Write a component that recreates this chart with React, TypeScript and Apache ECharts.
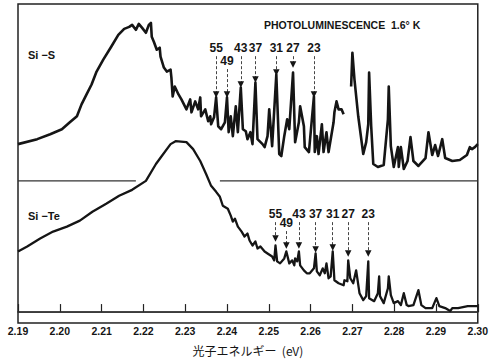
import React, { useEffect, useRef } from 'react';
import * as echarts from 'echarts';

// x: photon energy (eV); y: relative intensity (arbitrary units, above each baseline)
const siS: [number, number | string][] = [
  [2.19, 37], [2.1946, 42], [2.1977, 47], [2.2005, 52], [2.2024, 59], [2.2041, 65], [2.2052, 77],
  [2.2064, 87], [2.2076, 97], [2.2088, 110], [2.2104, 122], [2.2123, 135], [2.214, 147], [2.2154, 153],
  [2.2166, 155], [2.2173, 157], [2.2182, 152], [2.2189, 158], [2.2197, 154], [2.2206, 149], [2.2213, 157],
  [2.2218, 159], [2.222, 145], [2.2225, 140], [2.2232, 132], [2.2239, 134], [2.2241, 125], [2.2249, 114],
  [2.2256, 110], [2.2265, 112], [2.2267, 104], [2.227, 85], [2.2275, 95], [2.2284, 87], [2.2291, 82],
  [2.2303, 72], [2.2312, 82], [2.2315, 69], [2.2324, 80], [2.2331, 72], [2.2336, 84], [2.2338, 65],
  [2.2348, 72], [2.2355, 60], [2.236, 65], [2.2362, 57], [2.2369, 64], [2.2374, 84], [2.2379, 55],
  [2.2386, 52], [2.2395, 59], [2.24, 84], [2.2404, 49], [2.2409, 65], [2.2414, 45], [2.2421, 75],
  [2.2426, 49], [2.2433, 94], [2.2438, 52], [2.2445, 50], [2.2449, 42], [2.2456, 49], [2.2461, 37],
  [2.2468, 99], [2.2473, 42], [2.2485, 37], [2.249, 34], [2.2497, 45], [2.2501, 72], [2.2508, 35],
  [2.2518, 107], [2.2525, 27], [2.253, 25], [2.2537, 45], [2.2544, 62], [2.2549, 52], [2.2551, 65],
  [2.2558, 109], [2.2563, 39], [2.2572, 59], [2.2575, 75], [2.2584, 55], [2.2586, 34], [2.2596, 29],
  [2.2608, 85], [2.261, 29], [2.2615, 45], [2.2619, 27], [2.2627, 57], [2.2631, 29], [2.2638, 49],
  [2.2643, 29], [2.2655, 59], [2.2657, 69], [2.2662, 80], [2.2667, 72], [2.2674, 72], [2.2679, 67],
  [2.2688, '-'],
  [2.2697, 95], [2.27, 129], [2.2705, 102], [2.2714, 65], [2.2726, 27], [2.2733, 39], [2.2738, 57],
  [2.274, 109], [2.2745, 55], [2.275, 17], [2.2761, 14], [2.2775, 16], [2.2785, 62], [2.2787, 95],
  [2.2792, 35], [2.2799, 14], [2.2809, 34], [2.2811, 14], [2.2816, 34], [2.2823, 12], [2.2832, 20],
  [2.2839, 44], [2.2846, 20], [2.2858, 15], [2.2875, 23], [2.2882, 49], [2.2891, 26], [2.2898, 36],
  [2.2905, 25], [2.2915, 42], [2.2922, 23], [2.2939, 20], [2.2957, 21], [2.2974, 26], [2.2981, 34],
  [2.2986, 32], [2.2993, 34], [2.3, 37],
];

const siTe: [number, number][] = [
  [2.19, 61], [2.1922, 66], [2.1953, 74], [2.1984, 81], [2.2017, 86], [2.2048, 92], [2.2078, 101],
  [2.2111, 109], [2.2142, 117], [2.2173, 123], [2.2206, 132], [2.223, 149], [2.2244, 157], [2.2265, 169],
  [2.2277, 172], [2.2303, 171], [2.2319, 164], [2.2336, 152], [2.235, 139], [2.2362, 127], [2.2374, 121],
  [2.2383, 116], [2.239, 107], [2.2402, 104], [2.2409, 97], [2.2414, 91], [2.2419, 94], [2.2426, 86],
  [2.2435, 81], [2.2442, 76], [2.2449, 79], [2.2454, 72], [2.2461, 67], [2.2468, 71], [2.2473, 64],
  [2.248, 66], [2.249, 61], [2.2497, 59], [2.2508, 56], [2.2513, 52], [2.2516, 67], [2.252, 51],
  [2.2527, 49], [2.2537, 54], [2.2542, 61], [2.2549, 49], [2.2556, 52], [2.2561, 47], [2.2563, 54],
  [2.2568, 51], [2.2572, 61], [2.2575, 47], [2.2584, 42], [2.2591, 39], [2.2598, 39], [2.2608, 44],
  [2.2612, 59], [2.2615, 41], [2.2622, 37], [2.2629, 44], [2.2634, 39], [2.2638, 49], [2.2643, 34],
  [2.2648, 36], [2.2653, 61], [2.2657, 32], [2.2667, 29], [2.2679, 27], [2.2681, 32], [2.2688, 31],
  [2.269, 52], [2.2695, 34], [2.2702, 29], [2.2709, 42], [2.2717, 19], [2.2726, 12], [2.2733, 16],
  [2.2738, 51], [2.274, 14], [2.2752, 11], [2.2761, 19], [2.2764, 36], [2.2766, 16], [2.2775, 9],
  [2.2785, 24], [2.2787, 36], [2.2792, 17], [2.2799, 9], [2.2809, 11], [2.2816, 7], [2.2823, 19],
  [2.283, 7], [2.2834, 6], [2.2846, 7], [2.2858, 22], [2.2865, 7], [2.2875, 4], [2.2891, 4],
  [2.2901, 14], [2.2908, 6], [2.2922, 4], [2.2934, 1], [2.2939, 4], [2.2953, 4], [2.2976, 6],
  [2.3, 6],
];

// Si-S zero line is interrupted where the Si-Te peak crosses it
const siSBaseLeft = [2.19, 2.2182];
const siSBaseRight = [2.2383, 2.3];
const siTeBase = [2.19, 2.3];

const peakLabels = ['55', '49', '43', '37', '31', '27', '23'];
const topPeakX = [2.2374, 2.24, 2.2433, 2.2468, 2.2518, 2.2558, 2.2608];
const topArrowStart = [125.5, 112.5, 125.5, 125.5, 125.5, 125.5, 125.5];
const topArrowEnd = [87, 87, 97, 102, 109, 117, 87];
const bottomPeakX = [2.2516, 2.2542, 2.2572, 2.2612, 2.2653, 2.269, 2.2738];
const bottomArrowStart = [90.5, 81.5, 90.5, 90.5, 90.5, 90.5, 90.5];
const bottomArrowEnd = [74, 67, 67, 63, 65, 59, 59];

const xMin = 2.19;
const xMax = 2.3;
const xStep = 0.01;

const INK = '#151515';
const FONT = '"Liberation Sans", Arial, sans-serif';

function arrows(xs: number[], starts: number[], ends: number[]) {
  return xs.map((x, i) => [
    { name: peakLabels[i], coord: [x, starts[i]] },
    { coord: [x, ends[i]] },
  ]);
}

function markLineOf(xs: number[], starts: number[], ends: number[]) {
  return {
    silent: true,
    symbol: ['none', 'triangle'],
    symbolSize: 6.5,
    lineStyle: { color: INK, width: 0.8, type: [3, 2] },
    label: {
      show: true,
      position: 'start',
      distance: 2,
      formatter: '{b}',
      color: INK,
      fontSize: 12,
      fontWeight: 'bold',
      fontFamily: FONT,
    },
    emphasis: { disabled: true },
    data: arrows(xs, starts, ends),
  };
}

export default function App() {
  const ref = useRef<HTMLDivElement>(null);
  useEffect(() => {
    if (!ref.current) return;
    const chart = echarts.init(ref.current, null, { renderer: 'svg' });
    const lineBase = {
      type: 'line',
      showSymbol: false,
      symbol: 'none',
      silent: true,
      animation: false,
    };
    chart.setOption({
      animation: false,
      backgroundColor: '#ffffff',
      title: {
        text: 'PHOTOLUMINESCENCE  1.6° K',
        left: 259,
        top: 14,
        textStyle: { fontSize: 10.5, fontWeight: 'bold', color: INK, fontFamily: FONT },
      },
      grid: {
        left: 18,
        right: 8,
        top: 4,
        bottom: 36,
        show: true,
        borderColor: '#222',
        borderWidth: 1.5,
        backgroundColor: 'transparent',
      },
      xAxis: {
        type: 'value',
        min: xMin,
        max: xMax,
        interval: xStep,
        name: '光子エネルギー  (eV)',
        nameLocation: 'middle',
        nameGap: 21,
        nameTextStyle: { fontSize: 12, color: INK, fontFamily: '"Noto Sans CJK JP", sans-serif' },
        axisLine: { show: true, lineStyle: { color: '#222', width: 1.5 } },
        axisTick: { show: true, inside: true, length: 8, lineStyle: { color: '#222', width: 1.2 } },
        axisLabel: {
          margin: 3,
          fontSize: 10.5,
          fontWeight: 'bold',
          color: INK,
          fontFamily: FONT,
          formatter: (v: number) => v.toFixed(2),
        },
        splitLine: { show: false },
      },
      yAxis: [
        { type: 'value', min: -11, max: 310, show: false, splitLine: { show: false } },
        { type: 'value', min: -143, max: 178, show: false, splitLine: { show: false } },
      ],
      graphic: [
        {
          type: 'text',
          left: 28,
          top: 49,
          style: { text: 'Si −S', fontSize: 11, fontWeight: 'bold', fill: INK, fontFamily: FONT },
        },
        {
          type: 'text',
          left: 28,
          top: 210,
          style: { text: 'Si −Te', fontSize: 11, fontWeight: 'bold', fill: INK, fontFamily: FONT },
        },
      ],
      series: [
        {
          ...lineBase,
          name: 'baseTe',
          yAxisIndex: 0,
          data: siTeBase.map((x) => [x, 0]),
          lineStyle: { color: '#333', width: 1.2 },
        },
        {
          ...lineBase,
          name: 'baseSL',
          yAxisIndex: 1,
          data: siSBaseLeft.map((x) => [x, 0]),
          lineStyle: { color: '#333', width: 1.2 },
        },
        {
          ...lineBase,
          name: 'baseSR',
          yAxisIndex: 1,
          data: siSBaseRight.map((x) => [x, 0]),
          lineStyle: { color: '#333', width: 1.2 },
        },
        {
          ...lineBase,
          name: 'Si-S',
          yAxisIndex: 1,
          data: siS,
          connectNulls: false,
          lineStyle: { color: INK, width: 2.6, join: 'round' },
          markLine: markLineOf(topPeakX, topArrowStart, topArrowEnd),
        },
        {
          ...lineBase,
          name: 'Si-Te',
          yAxisIndex: 0,
          data: siTe,
          lineStyle: { color: INK, width: 2.3, join: 'round' },
          markLine: markLineOf(bottomPeakX, bottomArrowStart, bottomArrowEnd),
        },
      ],
    });
    return () => chart.dispose();
  }, []);
  return (
    <div
      ref={ref}
      style={{ position: 'fixed', left: 0, top: 0, width: 491, height: 361, background: '#fff' }}
    />
  );
}
